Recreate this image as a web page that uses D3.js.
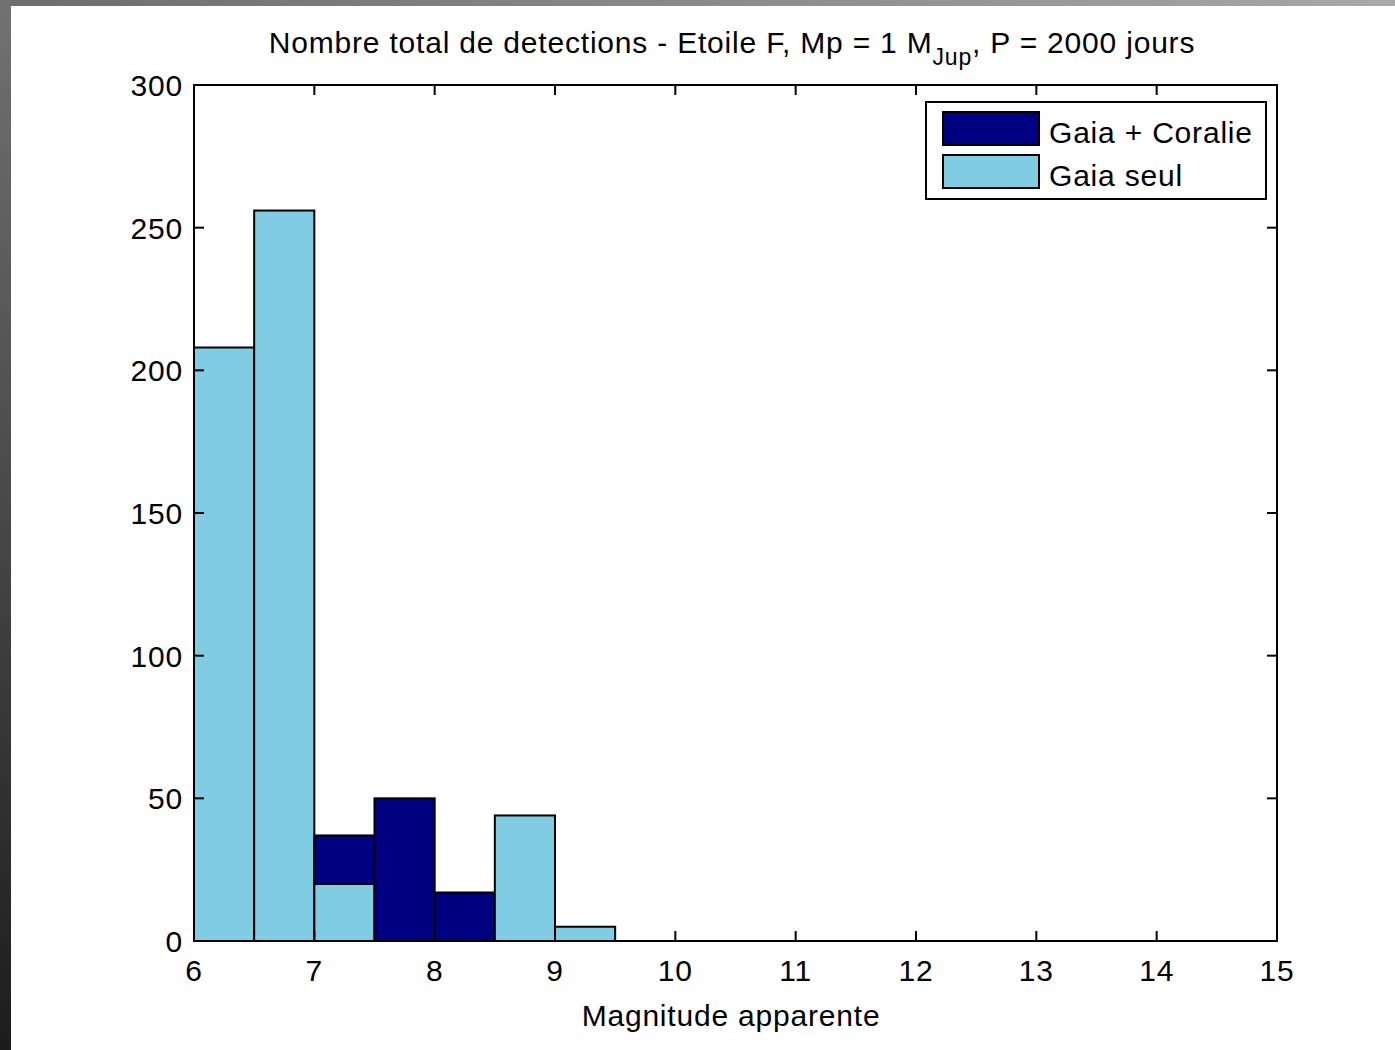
<!DOCTYPE html>
<html>
<head>
<meta charset="utf-8">
<script src="https://cdn.jsdelivr.net/npm/d3@7"></script>
<style>
  html, body { margin: 0; padding: 0; background: #fff; }
  svg text { font-family: "Liberation Sans", Arial, sans-serif; fill: #000; letter-spacing: 0.8px; }
</style>
</head>
<body>
<div id="chart"></div>
<script>
// bins of apparent magnitude (left edges, width 0.5)
const binStarts = [6, 6.5, 7, 7.5, 8, 8.5, 9];
const gaiaSeul = [208, 256, 20, 0, 0, 44, 5];
const gaiaCoralie = [0, 0, 17, 50, 17, 0, 0];
const xTicks = [6, 7, 8, 9, 10, 11, 12, 13, 14, 15];
const yTicks = [0, 50, 100, 150, 200, 250, 300];
const seriesNames = ['Gaia + Coralie', 'Gaia seul'];
const seriesColors = ['#000080', '#80cce3'];

const W = 1395, H = 1050;
const m = { left: 194, right: 1277, top: 85, bottom: 941 };
const fs = 30;

const svg = d3.select('#chart').append('svg')
  .attr('width', W).attr('height', H);

// grey frame around the slide
const defs = svg.append('defs');
const gl = defs.append('linearGradient').attr('id', 'gLeft')
  .attr('x1', 0).attr('y1', 0).attr('x2', 0).attr('y2', 1);
gl.append('stop').attr('offset', 0).attr('stop-color', '#727272');
gl.append('stop').attr('offset', 1).attr('stop-color', '#1c1c1c');
const gt = defs.append('linearGradient').attr('id', 'gTop')
  .attr('x1', 0).attr('y1', 0).attr('x2', 1).attr('y2', 0);
gt.append('stop').attr('offset', 0).attr('stop-color', '#6c6c6c');
gt.append('stop').attr('offset', 1).attr('stop-color', '#a8a8a8');
svg.append('rect').attr('x', 0).attr('y', 0).attr('width', W).attr('height', 6).attr('fill', 'url(#gTop)');
svg.append('rect').attr('x', 0).attr('y', 0).attr('width', 11).attr('height', H).attr('fill', 'url(#gLeft)');

const x = d3.scaleLinear().domain([6, 15]).range([m.left, m.right]);
const y = d3.scaleLinear().domain([0, 300]).range([m.bottom, m.top]);

// bars: Gaia seul at bottom, Gaia + Coralie stacked above
const bars = svg.append('g');
binStarts.forEach((b, i) => {
  const base = gaiaSeul[i];
  if (gaiaSeul[i] > 0) {
    bars.append('rect')
      .attr('x', x(b)).attr('width', x(b + 0.5) - x(b))
      .attr('y', y(base)).attr('height', y(0) - y(base))
      .attr('fill', seriesColors[1]).attr('stroke', '#000').attr('stroke-width', 2);
  }
  if (gaiaCoralie[i] > 0) {
    const top = base + gaiaCoralie[i];
    bars.append('rect')
      .attr('x', x(b)).attr('width', x(b + 0.5) - x(b))
      .attr('y', y(top)).attr('height', y(base) - y(top))
      .attr('fill', seriesColors[0]).attr('stroke', '#000').attr('stroke-width', 2);
  }
});

// axes box with inward ticks
const axes = svg.append('g');
axes.append('rect')
  .attr('x', m.left).attr('y', m.top)
  .attr('width', m.right - m.left).attr('height', m.bottom - m.top)
  .attr('fill', 'none').attr('stroke', '#000').attr('stroke-width', 2);

const tl = 10;
xTicks.forEach(t => {
  axes.append('line').attr('x1', x(t)).attr('x2', x(t))
    .attr('y1', m.bottom).attr('y2', m.bottom - tl).attr('stroke', '#000').attr('stroke-width', 2);
  axes.append('line').attr('x1', x(t)).attr('x2', x(t))
    .attr('y1', m.top).attr('y2', m.top + tl).attr('stroke', '#000').attr('stroke-width', 2);
  axes.append('text').attr('x', x(t)).attr('y', 981)
    .attr('text-anchor', 'middle').attr('font-size', fs).text(t);
});
yTicks.forEach(t => {
  axes.append('line').attr('x1', m.left).attr('x2', m.left + tl)
    .attr('y1', y(t)).attr('y2', y(t)).attr('stroke', '#000').attr('stroke-width', 2);
  axes.append('line').attr('x1', m.right).attr('x2', m.right - tl)
    .attr('y1', y(t)).attr('y2', y(t)).attr('stroke', '#000').attr('stroke-width', 2);
  axes.append('text').attr('x', 183).attr('y', y(t) + 11)
    .attr('text-anchor', 'end').attr('font-size', fs).text(t);
});

// title with subscript
const title = svg.append('text').attr('x', 732).attr('y', 53)
  .attr('text-anchor', 'middle').attr('font-size', fs);
title.append('tspan').text('Nombre total de detections - Etoile F, Mp = 1 M');
title.append('tspan').attr('font-size', 23).attr('dy', 12).text('Jup');
title.append('tspan').attr('dy', -12).text(', P = 2000 jours');

svg.append('text').attr('x', 731).attr('y', 1026)
  .attr('text-anchor', 'middle').attr('font-size', fs).text('Magnitude apparente');

// legend
const lg = svg.append('g');
lg.append('rect').attr('x', 926).attr('y', 102).attr('width', 340).attr('height', 97)
  .attr('fill', '#fff').attr('stroke', '#000').attr('stroke-width', 2);
seriesNames.forEach((name, i) => {
  const yy = 112 + i * 43;
  lg.append('rect').attr('x', 943).attr('y', yy).attr('width', 96).attr('height', 33)
    .attr('fill', seriesColors[i]).attr('stroke', '#000').attr('stroke-width', 2);
  lg.append('text').attr('x', 1049).attr('y', yy + 31).attr('font-size', fs).text(name);
});
</script>
</body>
</html>
